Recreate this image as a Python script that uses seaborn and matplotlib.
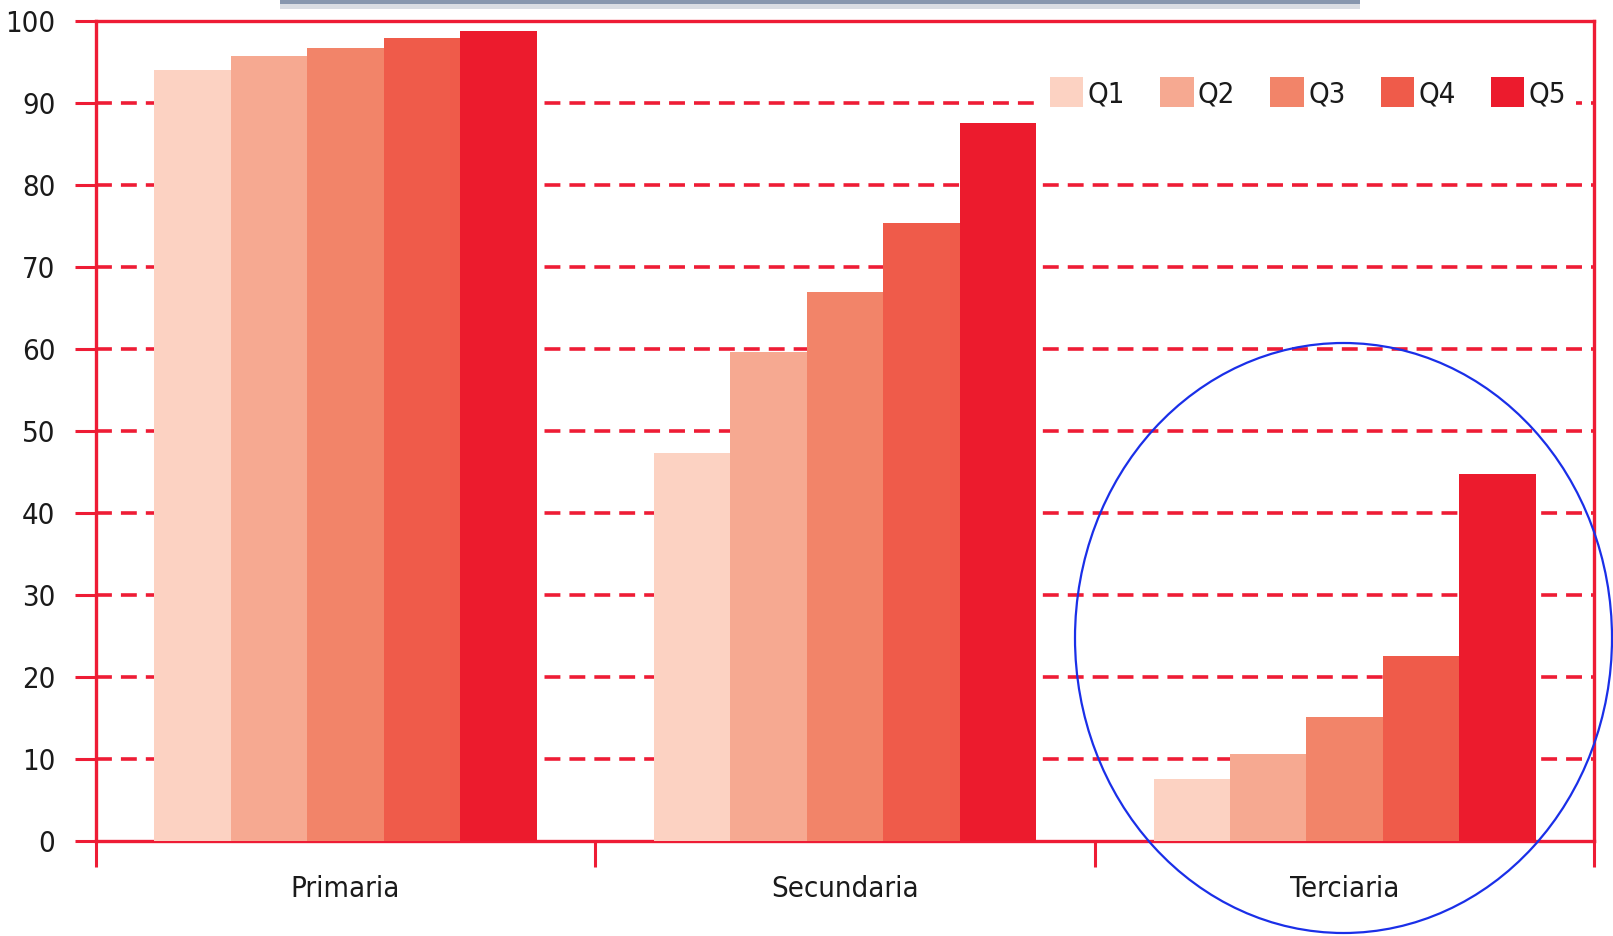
import matplotlib
matplotlib.use("Agg")
import matplotlib.pyplot as plt
import seaborn as sns
import pandas as pd
from matplotlib.patches import Ellipse, Rectangle

categories = ["Primaria", "Secundaria", "Terciaria"]
quintiles = ["Q1", "Q2", "Q3", "Q4", "Q5"]
q1 = [94.0, 47.3, 7.5]
q2 = [95.7, 59.6, 10.5]
q3 = [96.6, 66.9, 15.1]
q4 = [97.9, 75.3, 22.5]
q5 = [98.7, 87.5, 44.7]
yticks = [0, 10, 20, 30, 40, 50, 60, 70, 80, 90, 100]
colors = ["#FCD2C2", "#F6A991", "#F28469", "#EF5B4A", "#EC1B2D"]

series = {"Q1": q1, "Q2": q2, "Q3": q3, "Q4": q4, "Q5": q5}
rows = []
for q in quintiles:
    for c, v in zip(categories, series[q]):
        rows.append({"Nivel": c, "Quintil": q, "Valor": v})
df = pd.DataFrame(rows)

sns.set_theme(style="white")
plt.rcParams["font.family"] = ["DejaVu Sans"]
plt.rcParams["font.stretch"] = "condensed"

RED = "#EE1C35"
TXT = "#1a1a1a"
fig = plt.figure(figsize=(16.13, 9.36), dpi=100)
ax = fig.add_axes([0.0593, 0.102, 0.9292, 0.876])

sns.barplot(data=df, x="Nivel", y="Valor", hue="Quintil", order=categories,
            hue_order=quintiles, palette=colors, width=0.765, saturation=1,
            linewidth=0, ax=ax, zorder=3)

ax.set_ylim(0, 100)
ax.set_xlim(-0.5, 2.5)
ax.set_yticks(yticks)
ax.set_yticklabels([str(t) for t in yticks])
for t in yticks[1:-1]:
    ax.axhline(t, color=RED, lw=2.6, linestyle=(0, (4.4, 2.5)), zorder=1)

for s in ax.spines.values():
    s.set_visible(True)
    s.set_color(RED)
    s.set_linewidth(2.4)

ax.set_xlabel("")
ax.set_ylabel("")
ax.tick_params(axis="y", which="major", direction="out", length=15, width=2.2,
               color=RED, labelsize=21, labelcolor=TXT, pad=14, left=True)
ax.tick_params(axis="x", which="major", length=0, labelsize=21,
               labelcolor=TXT, pad=25)
ax.set_xticks([-0.5, 0.5, 1.5, 2.5], minor=True)
ax.tick_params(axis="x", which="minor", direction="out", length=19, width=2.2,
               color=RED, bottom=True)
for lab in ax.get_xticklabels() + ax.get_yticklabels():
    lab.set_fontstretch("condensed")

leg = ax.legend(loc="center right", bbox_to_anchor=(0.988, 0.912), ncol=5,
                frameon=True, fontsize=21, handlelength=1.15, handleheight=1.2,
                handletextpad=0.15, columnspacing=1.2, borderpad=0.35,
                borderaxespad=0, framealpha=1)
leg.get_frame().set_facecolor("white")
leg.get_frame().set_edgecolor("white")
leg.get_frame().set_linewidth(0)
leg.set_zorder(5)
for t in leg.get_texts():
    t.set_fontstretch("condensed")
    t.set_color(TXT)

# grey title-box remnant at the top
fig.patches.append(Rectangle((280 / 1613, 1 - 4 / 936), 1080 / 1613, 4 / 936,
                             transform=fig.transFigure, facecolor="#8797AE",
                             edgecolor="none", zorder=10))
fig.patches.append(Rectangle((280 / 1613, 1 - 9 / 936), 1080 / 1613, 5 / 936,
                             transform=fig.transFigure, facecolor="#D9DDE3",
                             edgecolor="none", zorder=10))

# blue highlight ellipse
fig.patches.append(Ellipse((1343.5 / 1613, 1 - 638 / 936), 537 / 1613, 590 / 936,
                           transform=fig.transFigure, facecolor="none",
                           edgecolor="#1A2FE8", linewidth=1.6, zorder=20))

fig.savefig("out.png", dpi=100)
